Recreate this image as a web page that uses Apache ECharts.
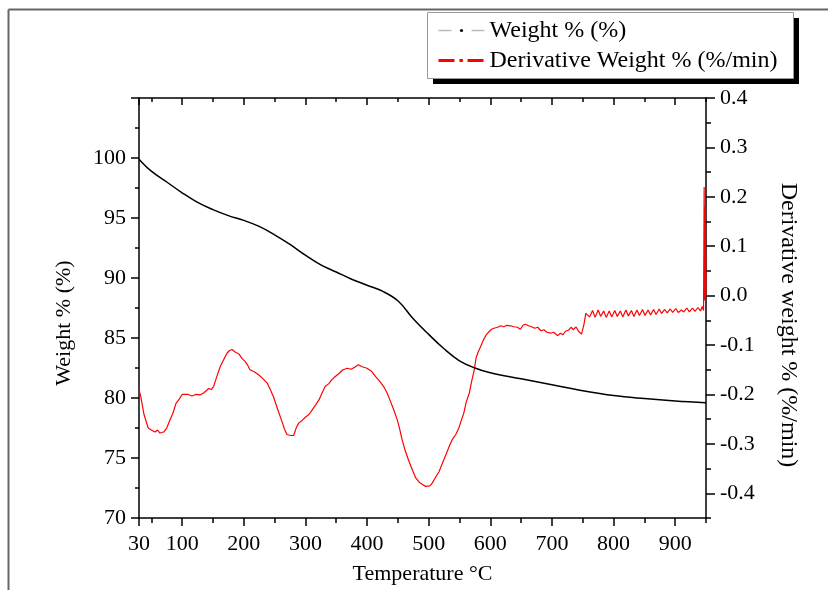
<!DOCTYPE html>
<html><head><meta charset="utf-8">
<script src="https://cdn.jsdelivr.net/npm/echarts@6/dist/echarts.min.js"></script>
<style>html,body{margin:0;padding:0;background:#fff}#c{width:828px;height:590px}</style>
</head><body><div id="c"></div>
<script>
const weightTemp = [30,50,75,100,125,150,175,200,225,250,275,300,325,350,375,400,425,450,475,500,525,550,575,600,650,700,750,800,850,900,950];
const weightVal = [99.9,98.9,98.0,97.1,96.3,95.7,95.2,94.8,94.3,93.6,92.8,91.9,91.1,90.5,89.9,89.4,88.9,88.1,86.6,85.3,84.1,83.1,82.5,82.1,81.6,81.1,80.6,80.2,79.95,79.75,79.6];

const derivTemp = [30,33,38,45,50,56,60,64,70,75,80,85,90,95,100,110,116,122,129,136,143,147,151,156,162,168,173,177,181,186,192,197,202,206,210,217,224,231,238,243,248,255,262,266,270,276,281,285,289,295,300,306,311,316,322,327,332,338,343,349,354,361,368,374,380,386,392,400,407,414,421,427,433,438,443,449,453,457,462,468,474,479,485,490,495,498,502,506,511,517,522,528,533,538,544,549,553,557,561,566,570,574,577,580,584,588,593,598,602,606,612,617,622,627,633,638,644,649,653,657,662,667,672,677,682,687,692,698,703,709,714,718,722,727,731,735,739,743,748,752,755,757,761,766,770,775,779,784,788,793,797,802,806,811,815,820,824,829,833,838,842,847,851,856,860,865,869,874,878,883,887,892,896,901,905,910,914,919,923,928,932,937,941,944,946,947,948,949,950];
const derivVal = [-0.19,-0.205,-0.24,-0.268,-0.272,-0.276,-0.272,-0.278,-0.276,-0.268,-0.252,-0.238,-0.218,-0.21,-0.2,-0.2,-0.203,-0.2,-0.201,-0.196,-0.188,-0.19,-0.184,-0.165,-0.143,-0.128,-0.116,-0.111,-0.109,-0.114,-0.118,-0.127,-0.133,-0.14,-0.15,-0.154,-0.16,-0.168,-0.177,-0.19,-0.204,-0.23,-0.255,-0.27,-0.281,-0.283,-0.283,-0.268,-0.258,-0.252,-0.246,-0.24,-0.231,-0.222,-0.211,-0.197,-0.184,-0.178,-0.17,-0.163,-0.158,-0.15,-0.147,-0.149,-0.145,-0.14,-0.144,-0.147,-0.153,-0.164,-0.174,-0.184,-0.198,-0.214,-0.23,-0.251,-0.27,-0.292,-0.314,-0.335,-0.354,-0.369,-0.378,-0.382,-0.386,-0.389,-0.385,-0.379,-0.368,-0.356,-0.34,-0.322,-0.306,-0.292,-0.281,-0.268,-0.252,-0.238,-0.215,-0.197,-0.172,-0.15,-0.126,-0.115,-0.104,-0.092,-0.08,-0.073,-0.068,-0.066,-0.064,-0.061,-0.063,-0.06,-0.061,-0.063,-0.064,-0.068,-0.06,-0.058,-0.061,-0.063,-0.066,-0.064,-0.071,-0.069,-0.074,-0.076,-0.074,-0.081,-0.076,-0.079,-0.072,-0.07,-0.064,-0.069,-0.063,-0.072,-0.078,-0.058,-0.036,-0.032,-0.043,-0.03,-0.044,-0.029,-0.042,-0.031,-0.044,-0.031,-0.043,-0.03,-0.042,-0.031,-0.043,-0.029,-0.041,-0.03,-0.042,-0.029,-0.04,-0.028,-0.04,-0.029,-0.039,-0.028,-0.038,-0.027,-0.036,-0.028,-0.035,-0.027,-0.034,-0.026,-0.034,-0.029,-0.033,-0.025,-0.033,-0.025,-0.032,-0.024,-0.031,-0.022,-0.03,0.22,-0.01,0.18,0.0];

const xMajorTicks = [30,100,200,300,400,500,600,700,800,900];
const xMinorTicks = [50,150,250,350,450,550,650,750,850,950];
const yRightMajor = [-0.4,-0.3,-0.2,-0.1,0,0.1,0.2,0.3,0.4];
const yRightMinor = [-0.45,-0.35,-0.25,-0.15,-0.05,0.05,0.15,0.25,0.35];

const FONT = "'Liberation Serif','Times New Roman',serif";
const weightData = weightTemp.map((t,i)=>[t, weightVal[i]]);
const derivData = derivTemp.map((t,i)=>[t, derivVal[i]]);

const chart = echarts.init(document.getElementById('c'));
const axLine = {show:true, onZero:false, lineStyle:{color:'#000', width:1.5}};
const noLine = {show:false, onZero:false};
chart.setOption({
  backgroundColor:'#fff',
  animation:false,
  grid:{left:139, right:122, top:98, bottom:72},
  graphic:[
    {type:'line', z:-10, shape:{x1:8.5,y1:9.5,x2:828,y2:9.5}, style:{stroke:'#666', lineWidth:2}},
    {type:'line', z:-10, shape:{x1:8.5,y1:9.5,x2:8.5,y2:590}, style:{stroke:'#666', lineWidth:2}},
    {type:'rect', z:1, shape:{x:433,y:18,width:366,height:66}, style:{fill:'#000'}},
    {type:'rect', z:2, shape:{x:427.5,y:12.5,width:366,height:66}, style:{fill:'#fff', stroke:'#999', lineWidth:1}}
  ],
  legend:{
    orient:'vertical', left:427, top:12,
    padding:[5,14,5,10], itemGap:3, itemWidth:46, itemHeight:4,
    textStyle:{fontFamily:FONT, fontSize:24, color:'#000', lineHeight:27},
    data:[
      {name:'Weight % (%)', itemStyle:{color:'#000'}, lineStyle:{color:'#bbb', width:1.5, type:[13,20]}},
      {name:'Derivative Weight % (%/min)', itemStyle:{color:'#f00'}, lineStyle:{color:'#f00', width:3, type:[16,5,3,5]}}
    ]
  },
  xAxis:[
    {type:'value', position:'bottom', min:30, max:950, splitLine:{show:false},
     axisLine:axLine,
     axisTick:{show:true, inside:false, length:8, customValues:xMajorTicks, lineStyle:{color:'#000', width:1.5}},
     axisLabel:{customValues:xMajorTicks, margin:15, fontFamily:FONT, fontSize:22, color:'#000'},
     name:'Temperature °C', nameLocation:'middle', nameGap:45,
     nameTextStyle:{fontFamily:FONT, fontSize:22, color:'#000'}},
    {type:'value', position:'bottom', min:30, max:950, splitLine:{show:false},
     axisLine:noLine,
     axisTick:{show:true, inside:false, length:5, customValues:xMinorTicks, lineStyle:{color:'#000', width:1.5}},
     axisLabel:{show:false}},
    {type:'value', position:'top', min:30, max:950, splitLine:{show:false},
     axisLine:axLine,
     axisTick:{show:true, inside:true, length:7, customValues:xMajorTicks, lineStyle:{color:'#000', width:1.5}},
     axisLabel:{show:false}},
    {type:'value', position:'top', min:30, max:950, splitLine:{show:false},
     axisLine:noLine,
     axisTick:{show:true, inside:true, length:4, customValues:xMinorTicks, lineStyle:{color:'#000', width:1.5}},
     axisLabel:{show:false}}
  ],
  yAxis:[
    {type:'value', position:'left', min:70, max:105, interval:5, splitLine:{show:false},
     axisLine:axLine,
     axisTick:{show:true, inside:false, length:8, lineStyle:{color:'#000', width:1.5}},
     minorTick:{show:true, splitNumber:2, length:4, lineStyle:{color:'#000', width:1.5}},
     axisLabel:{margin:13, fontFamily:FONT, fontSize:22, color:'#000', formatter:v=> v===105 ? '' : String(v)},
     name:'Weight % (%)', nameLocation:'middle', nameGap:64, nameRotate:90,
     nameTextStyle:{fontFamily:FONT, fontSize:22, color:'#000', padding:[0,30,0,0]}},
    {type:'value', position:'right', min:-0.45, max:0.4, splitLine:{show:false},
     axisLine:axLine,
     axisTick:{show:true, inside:false, length:9, customValues:yRightMajor, lineStyle:{color:'#000', width:1.5}},
     axisLabel:{customValues:yRightMajor, margin:14, fontFamily:FONT, fontSize:22, color:'#000', formatter:v=>v.toFixed(1)},
     name:'Derivative weight % (%/min)', nameLocation:'middle', nameGap:70, nameRotate:-90,
     nameTextStyle:{fontFamily:FONT, fontSize:24, color:'#000', padding:[0,0,0,34]}},
    {type:'value', position:'right', min:-0.45, max:0.4, splitLine:{show:false},
     axisLine:noLine,
     axisTick:{show:true, inside:false, length:5, customValues:yRightMinor, lineStyle:{color:'#000', width:1.5}},
     axisLabel:{show:false}}
  ],
  series:[
    {name:'Weight % (%)', type:'line', xAxisIndex:0, yAxisIndex:0, data:weightData,
     smooth:0.4, symbol:'circle', showSymbol:false, itemStyle:{color:'#000'},
     lineStyle:{color:'#000', width:1.5}, z:3},
    {name:'Derivative Weight % (%/min)', type:'line', xAxisIndex:0, yAxisIndex:1, data:derivData,
     symbol:'circle', showSymbol:false, itemStyle:{color:'#f00'},
     lineStyle:{color:'#f00', width:1.2}, z:2}
  ]
});
</script></body></html>
